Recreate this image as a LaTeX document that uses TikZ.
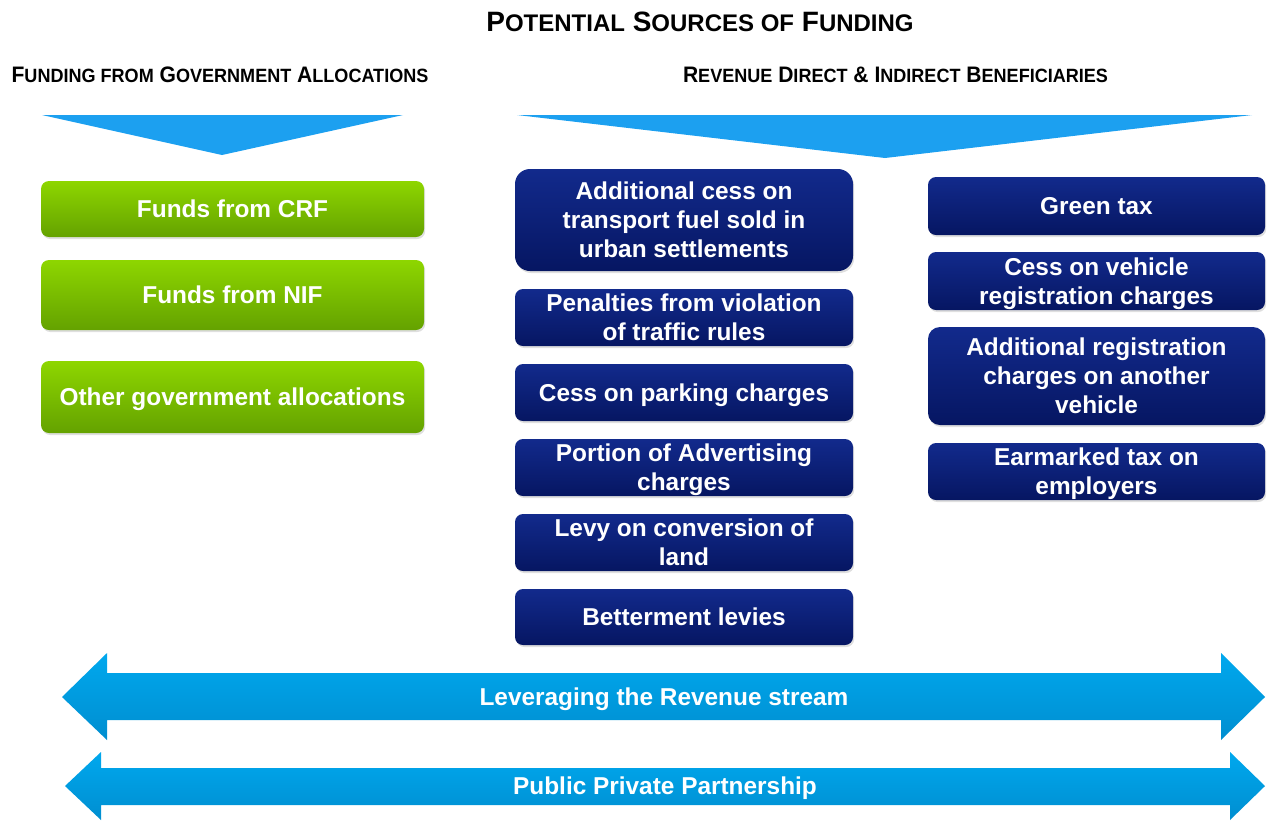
\documentclass[tikz,border=0pt]{standalone}
\usepackage{fontspec}
\setmainfont{Liberation Sans}
\newfontfamily\hdfont[FakeStretch=0.94]{Liberation Sans}
\usetikzlibrary{shadows}
\definecolor{leafhi}{RGB}{142,214,0}
\definecolor{leaflo}{RGB}{100,162,0}
\definecolor{navyhi}{RGB}{18,42,140}
\definecolor{navylo}{RGB}{6,22,98}
\definecolor{skyhi}{RGB}{0,168,238}
\definecolor{skylo}{RGB}{0,142,208}
\definecolor{chevblue}{RGB}{28,160,240}
% fake small caps
\newcommand\ttsc[1]{{\fontsize{12}{14}\selectfont #1}}
\newcommand\hdsc[1]{{\fontsize{9.6}{12}\selectfont #1}}
\begin{document}
\begin{tikzpicture}[x=0.5pt,y=-0.5pt,inner sep=0pt,outer sep=0pt,
txt/.style={text=white,font=\bfseries\fontsize{12.2}{14.5}\selectfont,align=center,text depth=0pt},
greenblock/.style={txt,rectangle,rounded corners=4pt,minimum width=191.5pt,top color=leafhi,bottom color=leaflo,
  drop shadow={opacity=0.25,shadow xshift=0.6pt,shadow yshift=-1pt}},
blueblock/.style={txt,rectangle,rounded corners=4pt,minimum width=169pt,minimum height=28.5pt,top color=navyhi,bottom color=navylo,
  drop shadow={opacity=0.25,shadow xshift=0.6pt,shadow yshift=-1pt}},
header/.style={font=\hdfont\bfseries\fontsize{11.2}{13}\selectfont},
bigarrow/.style={top color=skyhi,bottom color=skylo}]
\useasboundingbox (0,0) rectangle (1268,821);

% headings
\draw (700,22) node[font=\bfseries\fontsize{14}{16}\selectfont] (title) {P\ttsc{OTENTIAL} S\ttsc{OURCES OF} F\ttsc{UNDING}};
\draw (220,75) node[header] (govhead) {F\hdsc{UNDING FROM} G\hdsc{OVERNMENT} A\hdsc{LLOCATIONS}};
\draw (895.5,75) node[header] (revhead) {R\hdsc{EVENUE} D\hdsc{IRECT} \& I\hdsc{NDIRECT} B\hdsc{ENEFICIARIES}};

% chevrons
\fill[chevblue] (42,115) -- (403,115) -- (222,155) -- cycle;
\fill[chevblue] (517,115) -- (1252,115) -- (885,158) -- cycle;

% government allocations
\draw (232.5,209) node[greenblock,minimum height=28pt] (crf) {Funds from CRF};
\draw (232.5,295) node[greenblock,minimum height=35pt] (nif) {Funds from NIF};
\draw (232.5,397) node[greenblock,minimum height=36pt] (othergov) {Other government allocations};

% direct beneficiaries
\draw (684,220) node[blueblock,minimum height=51pt,rounded corners=7.5pt] (cessfuel) {Additional cess on\\transport fuel sold in\\urban settlements};
\draw (684,317.5) node[blueblock] (penalty) {Penalties from violation\\of traffic rules};
\draw (684,392.5) node[blueblock] (parking) {Cess on parking charges};
\draw (684,467.5) node[blueblock] (advert) {Portion of Advertising\\charges};
\draw (684,542.5) node[blueblock] (levyland) {Levy on conversion of\\land};
\draw (684,617) node[blueblock,minimum height=28pt] (betterment) {Betterment levies};

% indirect beneficiaries
\draw (1096.5,206) node[blueblock,minimum width=168.5pt,minimum height=29pt] (greentax) {Green tax};
\draw (1096.5,281) node[blueblock,minimum width=168.5pt,minimum height=29pt] (cessreg) {Cess on vehicle\\registration charges};
\draw (1096.5,376) node[blueblock,minimum width=168.5pt,minimum height=49pt,rounded corners=6pt] (addreg) {Additional registration\\charges on another\\vehicle};
\draw (1096.5,471.5) node[blueblock,minimum width=168.5pt] (earmark) {Earmarked tax on\\employers};

% double arrows
\path[bigarrow] (62,697) -- (107,653) -- (107,673) -- (1221,673) -- (1221,653) -- (1265,697)
  -- (1221,740) -- (1221,720) -- (107,720) -- (107,740) -- cycle;
\path[bigarrow] (65,786) -- (101,752) -- (101,768) -- (1230,768) -- (1230,752) -- (1265,786)
  -- (1230,820) -- (1230,805) -- (101,805) -- (101,820) -- cycle;
\draw (664,697) node[txt] (leverage) {Leveraging the Revenue stream};
\draw (665,786) node[txt] (ppp) {Public Private Partnership};
\end{tikzpicture}
\end{document}
